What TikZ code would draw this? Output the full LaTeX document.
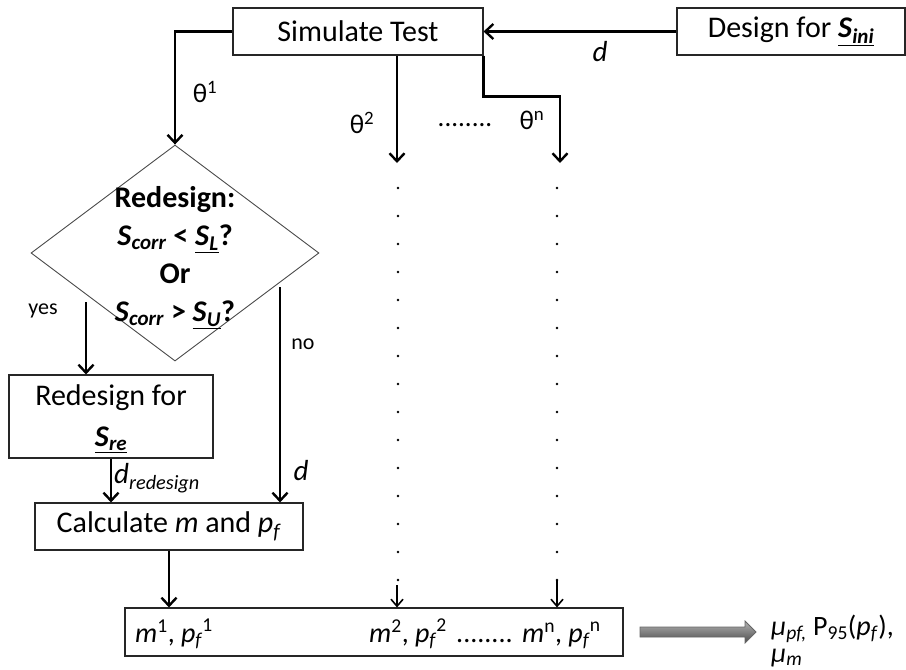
\documentclass[tikz,border=0pt]{standalone}
\usepackage{fontspec}
\setmainfont{Carlito}
\usetikzlibrary{shapes.geometric,arrows.meta}
\newcommand{\pfsup}[1]{\textit{p}\textsubscript{\textit{f}}\kern-0.5pt\raisebox{1pt}{\textsuperscript{#1}}}
\begin{document}
\begin{tikzpicture}[x=1pt,y=-1pt,
  box/.style={draw=black!85, line width=1.1pt, inner sep=0pt, font=\fontsize{30}{35}\selectfont},
  arr/.style={line width=2.4pt, -{Straight Barb[length=8pt,width=15pt]}},
  thinarr/.style={line width=1.6pt, -{Straight Barb[length=7pt,width=12pt]}},
  lbl/.style={font=\fontsize{27}{30}\selectfont, inner sep=0pt},
  small/.style={font=\fontsize{22}{26}\selectfont, inner sep=0pt},
  btxt/.style={inner sep=0pt, font=\fontsize{28}{32}\selectfont, anchor=base west},
  dot/.style={fill=black}]
\useasboundingbox (0,0) rectangle (906,670);

% boxes
\node[box, minimum width=250pt, minimum height=47pt] (sim) at (358,31.5) {Simulate Test};
\node[box, minimum width=228pt, minimum height=47pt] (des) at (791,31.5)
  {Design for \underline{\textbf{\textit{S}}\textsubscript{\textbf{\textit{ini}}}}};
\node[diamond, draw=black!70, line width=0.9pt, minimum width=288pt, minimum height=216pt, inner sep=0pt] (dia) at (175,253) {};
\node[align=center, inner sep=0pt, font=\fontsize{30}{38}\selectfont] (diatext) at (175,258)
  {\textbf{Redesign:}\\
   \textbf{\textit{S}\textsubscript{\textit{corr}} < \underline{\textit{S}\textsubscript{\textit{L}}}?}\\
   \textbf{Or}\\
   \textbf{\textit{S}\textsubscript{\textit{corr}} > \underline{\textit{S}\textsubscript{\textit{U}}}?}};
\node[box, minimum width=204pt, minimum height=83pt, align=center, font=\fontsize{30}{44}\selectfont] (redes) at (111,416.5) {};
\node[inner sep=0pt, font=\fontsize{30}{44}\selectfont] (redes1) at (111,398) {Redesign for};
\node[inner sep=0pt, font=\fontsize{30}{44}\selectfont] (redes2) at (111,440)
  {\underline{\textbf{\textit{S}}\textsubscript{\textbf{\textit{re}}}}};
\node[box, minimum width=268pt, minimum height=47pt] (calc) at (169,526.5)
  {Calculate \textit{m} and \textit{p}\textsubscript{\textit{f}}};
\node[box, minimum width=498pt, minimum height=48pt] (bot) at (374,632) {};
\node[btxt] (b1) at (135,642) {\textit{m}\textsuperscript{1}, \pfsup{1}};
\node[btxt] (b2) at (369,642) {\textit{m}\textsuperscript{2}, \pfsup{2}};
\node[btxt] (b3) at (456,642) {........};
\node[btxt] (b4) at (522,642) {\textit{m}\textsuperscript{n}, \pfsup{n}};

% coordinates
\coordinate (t2) at (397,163);
\coordinate (tn) at (560,163);
\coordinate (yesS) at (86,302);
\coordinate (noS) at (280,287);
\coordinate (s2) at (397,585);
\coordinate (sn) at (557,580);

% connectors
\draw[arr] (des.west) -- (sim.east);
\draw[arr] (sim.west) -| (dia.north);
\draw[arr] (sim.south -| t2) -- (t2);
\draw[arr] (sim.south east) -- ++(0,41) -| (tn);
\draw[arr] (yesS) -- (yesS |- redes.north);
\draw[arr] (noS) -- (noS |- calc.north);
\draw[arr] (redes.south) -- (redes.south |- calc.north);
\draw[arr] (calc.south) -- (calc.south |- bot.north);
\draw[thinarr] (s2) -- (s2 |- bot.north);
\draw[thinarr] (sn) -- (sn |- bot.north);

% dotted columns
\foreach \k in {0,...,14} {
  \fill[dot] (398,{188+28*\k}) circle (1.3pt);
  \fill[dot] (557,{188+28*\k}) circle (1.3pt);
}

% labels
\node[lbl] (th1) at (205,92) {θ\textsuperscript{1}};
\node[lbl] (th2) at (362,123) {θ\textsuperscript{2}};
\node[lbl] (thd) at (465,125) {........};
\node[lbl] (thn) at (532,120) {θ\textsuperscript{n}};
\node[lbl, font=\fontsize{29}{32}\selectfont] (dl) at (600,52) {\textit{d}};
\node[small] (yes) at (43,311) {yes};
\node[small] (no) at (303,344) {no};
\node[lbl, font=\fontsize{29}{32}\selectfont, anchor=west] (dre) at (114,478) {\textit{d}\textsubscript{\textit{redesign}}};
\node[lbl, font=\fontsize{29}{32}\selectfont] (d2) at (301,471) {\textit{d}};

% gray block arrow
\shade[draw=black!60, line width=0.8pt, top color=black!30, bottom color=black!70]
  (640,627) -- (745,627) -- (745,621) -- (756,632) -- (745,643) -- (745,637) -- (640,637) -- cycle;

\node[inner sep=0pt, anchor=base west, font=\fontsize{28}{32}\selectfont] (r1) at (771,635)
  {\textit{μ}\textsubscript{\textit{pf,}} P\textsubscript{95}(\textit{p}\textsubscript{\textit{f}}),};
\node[inner sep=0pt, anchor=base west, font=\fontsize{28}{32}\selectfont] (r2) at (771,662)
  {\textit{μ}\textsubscript{\textit{m}}};
\end{tikzpicture}
\end{document}
